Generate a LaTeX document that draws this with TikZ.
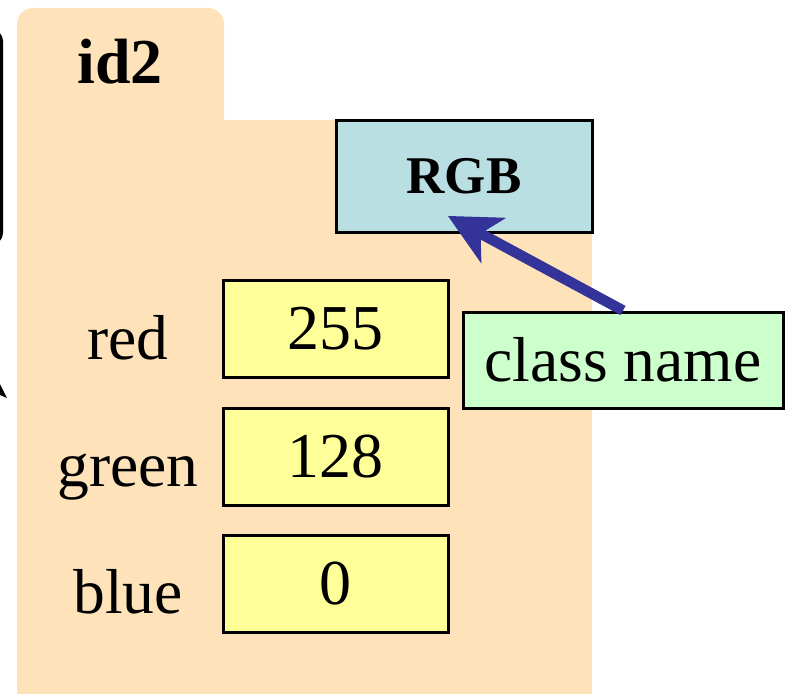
\documentclass[tikz,border=0pt]{standalone}
\usepackage{fontspec}
\setmainfont{Liberation Serif}
\usetikzlibrary{arrows.meta}
\definecolor{peach}{RGB}{253,226,186}
\definecolor{clsblue}{RGB}{185,223,227}
\definecolor{valyellow}{RGB}{255,255,153}
\definecolor{notegreen}{RGB}{204,255,204}
\definecolor{arrowblue}{RGB}{51,51,153}
\tikzset{
  folder/.style={fill=peach},
  valbox/.style={draw=black, line width=3pt, fill=valyellow, inner sep=0pt,
    minimum width=225pt, minimum height=97pt,
    font=\fontsize{64}{70}\selectfont},
  clsbox/.style={draw=black, line width=3pt, fill=clsblue, inner sep=0pt,
    minimum width=256pt, minimum height=112pt,
    font=\fontsize{53}{60}\selectfont\bfseries},
  notebox/.style={draw=black, line width=3pt, fill=notegreen, inner sep=0pt,
    minimum width=320pt, minimum height=96pt,
    font=\fontsize{63.5}{70}\selectfont},
  fieldlabel/.style={anchor=base, inner sep=0pt, font=\fontsize{63.5}{70}\selectfont},
  idlabel/.style={anchor=base, inner sep=0pt, font=\fontsize{64}{70}\selectfont\bfseries},
  pointer/.style={draw=arrowblue, line width=10.5pt,
    -{Stealth[length=52pt,width=52pt,inset=15pt,line width=1pt]}}
}
\begin{document}
\begin{tikzpicture}[x=1pt,y=-1pt]
\useasboundingbox (0,0) rectangle (789,693);
% cropped remnants at the left edge
\draw[line width=3pt, rounded corners=10pt] (-60,31) rectangle (1.5,243);
\fill (0,384) -- (7,398) -- (0,395) -- cycle;
% folder
\fill[folder, rounded corners=16pt] (17,8) rectangle (224,170);
\fill[folder] (17,120) rectangle (592,700);
\node[idlabel] (id) at (120,83) {id2};
% class box
\node[clsbox] (rgb) at (464,176) {RGB};
% fields
\node[valbox] (vred) at (335.5,328.5) {255};
\node[valbox] (vgreen) at (335.5,456.5) {128};
\node[valbox] (vblue) at (335.5,584) {0};
\node[fieldlabel] (lred) at (128,359) {red};
\node[fieldlabel] (lgreen) at (128,486) {green};
\node[fieldlabel] (lblue) at (128,613) {blue};
% note
\node[notebox] (cn) at (623,360) {class name};
\coordinate (tip) at (448,216);
\draw[pointer] (cn.north) -- (tip);
\end{tikzpicture}
\end{document}
